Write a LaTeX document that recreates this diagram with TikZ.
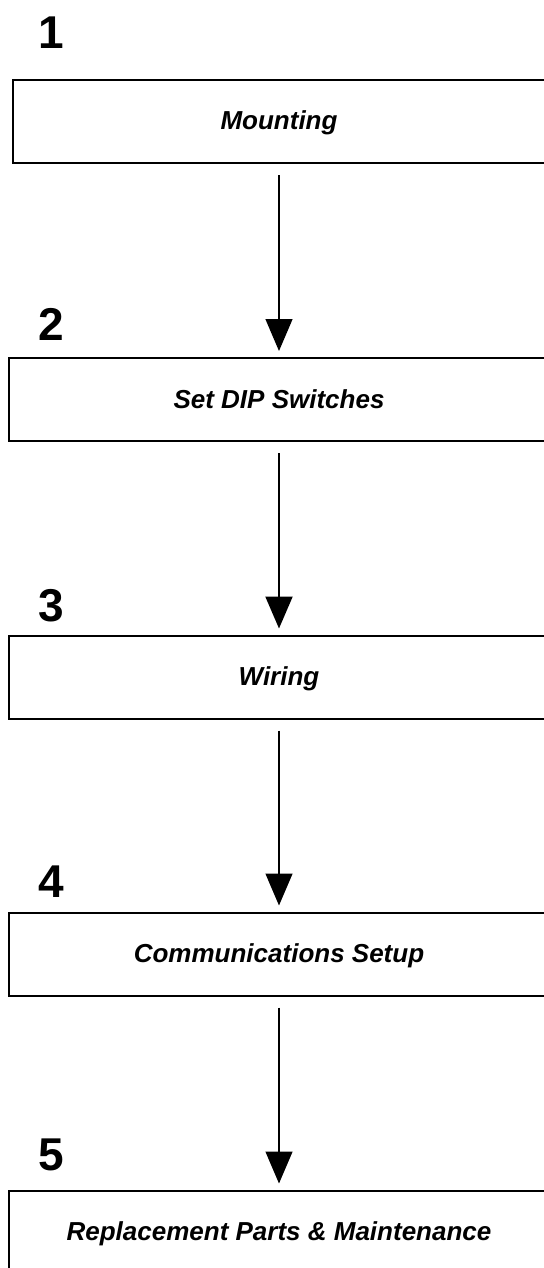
\documentclass[tikz,border=0pt]{standalone}
\usepackage{fontspec}
\setmainfont{Liberation Sans}
\usetikzlibrary{arrows.meta}

\tikzset{
  stepbox/.style={draw, line width=1pt, minimum width=270pt, minimum height=41.5pt,
    inner sep=0pt, text height=1.05em, text depth=0.2em,
    font=\fontsize{13}{15}\selectfont\bfseries\itshape},
  stepnum/.style={anchor=base west, inner sep=0pt, font=\fontsize{23}{26}\selectfont\bfseries},
  flow/.style={-{Triangle[width=13.5pt,length=16pt]}, line width=0.65pt,
    shorten <=5.5pt, shorten >=3pt}
}

\begin{document}
\begin{tikzpicture}[x=0.5pt,y=-0.5pt]
  \useasboundingbox (0,0) rectangle (544,1268);

  % Step numbers
  \node[stepnum] (num1) at (38,49) {1};
  \node[stepnum] (num2) at (38,340) {2};
  \node[stepnum] (num3) at (38,621) {3};
  \node[stepnum] (num4) at (38,897) {4};
  \node[stepnum] (num5) at (38,1170) {5};

  % Step boxes
  \node[stepbox, minimum width=266pt] (mounting) at (279,121.5) {Mounting};
  \node[stepbox] (dip) at (279,399.5) {Set DIP Switches};
  \node[stepbox] (wiring) at (279,677) {Wiring};
  \node[stepbox] (comms) at (279,954) {Communications Setup};
  \node[stepbox] (maint) at (279,1232) {Replacement Parts \& Maintenance};

  % Flow arrows
  \draw[flow] (mounting) -- (dip);
  \draw[flow, line width=1pt] (dip) -- (wiring);
  \draw[flow] (wiring) -- (comms);
  \draw[flow] (comms) -- (maint);
\end{tikzpicture}
\end{document}
